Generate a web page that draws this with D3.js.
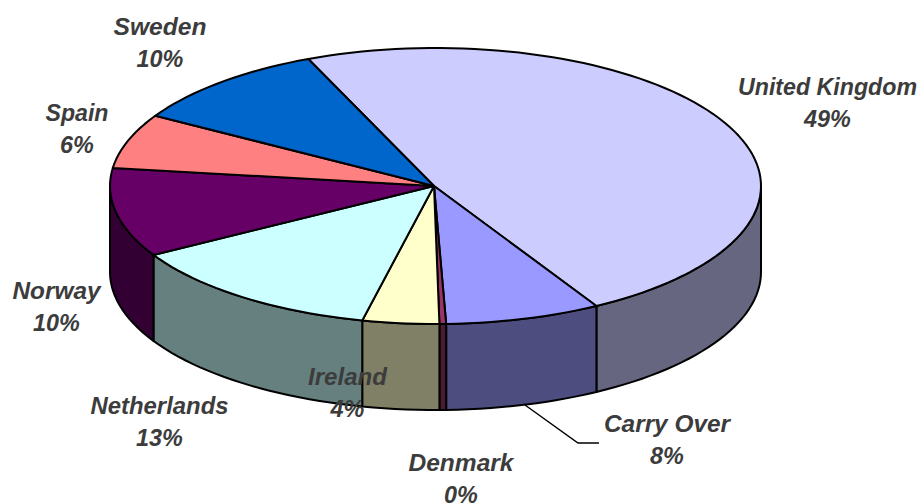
<!DOCTYPE html>
<html>
<head>
<meta charset="utf-8">
<script src="https://cdn.jsdelivr.net/npm/d3@7"></script>
<style>
  html, body { margin: 0; padding: 0; background: #fff; }
  svg { display: block; }
</style>
</head>
<body>
<script>
// Values, labels as printed on the chart
const countries = ["United Kingdom", "Carry Over", "Denmark", "Ireland", "Netherlands", "Norway", "Spain", "Sweden"];
const shares = [48.1, 7.7, 0.33, 3.8, 13.05, 10.4, 6.4, 10.1];
const percentLabels = ["49%", "8%", "0%", "4%", "13%", "10%", "6%", "10%"];
const topColors = ["#ccccff", "#9999ff", "#993366", "#ffffcc", "#ccffff", "#660066", "#ff8080", "#0066cc"];
const sideColors = ["#666680", "#4d4d80", "#4d1a33", "#808066", "#668080", "#330033", "#804040", "#003366"];

// Label layout, same order as countries
const labelX = [827.5, 667, 461, 347.5, 159.5, 56.5, 77, 160];
const labelY = [87, 424, 463, 377, 406, 291, 113, 27];
const labelWidth = [179, 126, 105, 79, 138, 88, 63, 93];

const width = 920;
const height = 504;
const cx = 435.5;
const cy = 186;
const rx = 325.5;
const ry = 138;
const depth = 86;

const svg = d3.select("body").append("svg")
    .attr("width", width)
    .attr("height", height)
    .attr("viewBox", [0, 0, width, height]);

const rad = d => d * Math.PI / 180;

const slices = d3.pie()
    .sort(null)
    .startAngle(rad(-23))
    .endAngle(rad(337))(shares);

// Angle on the pie -> point on the tilted ellipse
const px = a => cx + rx * Math.sin(a);
const py = a => cy - ry * Math.cos(a);

const samples = (a0, a1) => {
    const n = Math.max(2, Math.ceil((a1 - a0) / rad(2)));
    return d3.range(n + 1).map(i => a0 + (a1 - a0) * i / n);
};

const line = d3.line();

// Side wall: only the front half of the rim is visible
const sidePath = d => {
    const a0 = Math.max(d.startAngle, rad(90));
    const a1 = Math.min(d.endAngle, rad(270));
    if (a1 <= a0) return null;
    const rim = samples(a0, a1).map(a => [px(a), py(a)]);
    const low = rim.map(p => [p[0], p[1] + depth]).reverse();
    return line(rim.concat(low)) + "Z";
};

const topPath = d => {
    const rim = samples(d.startAngle, d.endAngle).map(a => [px(a), py(a)]);
    return line([[cx - 1.5, cy]].concat(rim)) + "Z";
};

const pie = svg.append("g")
    .attr("stroke", "#000")
    .attr("stroke-width", 2)
    .attr("stroke-linejoin", "round");

pie.append("g")
    .selectAll("path")
    .data(slices.filter(sidePath))
    .join("path")
    .attr("d", sidePath)
    .attr("fill", d => sideColors[d.index]);

pie.append("g")
    .selectAll("path")
    .data(slices)
    .join("path")
    .attr("d", topPath)
    .attr("fill", d => topColors[d.index]);

// Leader line for Carry Over
svg.append("path")
    .attr("d", line([[525, 405], [578, 443], [599, 443]]))
    .attr("fill", "none")
    .attr("stroke", "#000")
    .attr("stroke-width", 1.5);

// Labels
const labels = svg.append("g")
    .attr("font-family", "'Liberation Sans', Arial, sans-serif")
    .attr("font-size", 23.4)
    .attr("font-weight", "bold")
    .attr("font-style", "italic")
    .attr("fill", "#3c3c3c")
    .attr("text-anchor", "middle")
    .selectAll("g")
    .data(countries)
    .join("g")
    .attr("transform", (d, i) => `translate(${labelX[i]},${labelY[i]})`);

labels.append("text")
    .attr("y", 8)
    .attr("textLength", (d, i) => labelWidth[i])
    .attr("lengthAdjust", "spacingAndGlyphs")
    .text(d => d);

labels.append("text")
    .attr("y", 40)
    .text((d, i) => percentLabels[i]);
</script>
</body>
</html>
